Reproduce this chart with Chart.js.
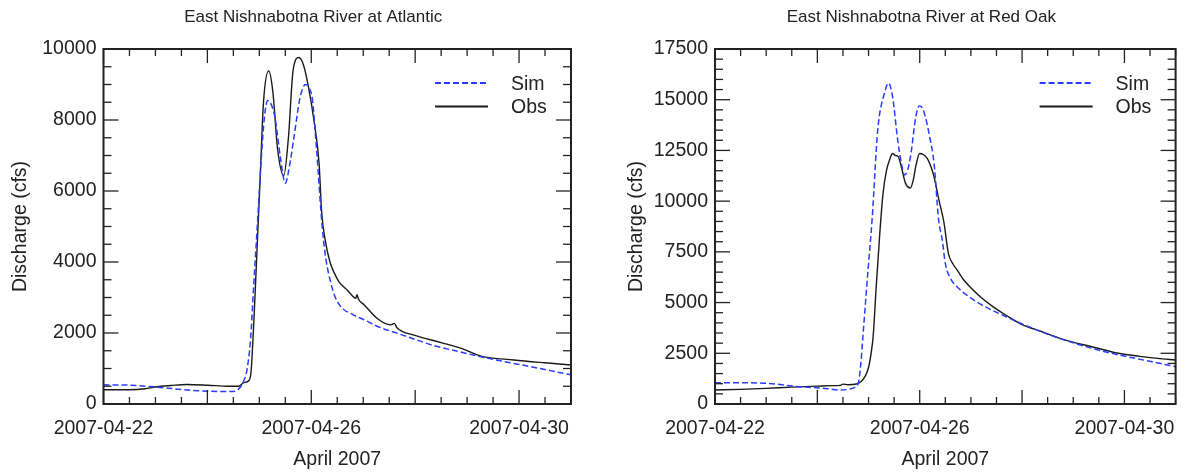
<!DOCTYPE html>
<html>
<head>
<meta charset="utf-8">
<script src="https://cdn.jsdelivr.net/npm/chart.js@4.4.1/dist/chart.umd.min.js"></script>
<style>
    html, body { margin: 0; padding: 0; background: #fff; }
    #wrap { position: relative; width: 1188px; height: 474px; }
    .panel { position: absolute; top: 0; width: 594px; height: 474px; }
</style>
</head>
<body>
<div id="wrap">
    <div class="panel" style="left:0"><canvas id="atlantic" width="594" height="474"></canvas></div>
    <div class="panel" style="left:594px"><canvas id="redoak" width="594" height="474"></canvas></div>
</div>
<script>
// --- Data (x = days since 2007-04-22 00:00, y = discharge in cfs) ---
const xLabelDays = [0, 4, 8];
const xLabels = ['2007-04-22', '2007-04-26', '2007-04-30'];
const xMajorDays = [0, 2, 4, 6, 8];

const atlanticYTicks = [0, 2000, 4000, 6000, 8000, 10000];
const redOakYTicks = [0, 2500, 5000, 7500, 10000, 12500, 15000, 17500];

const atlanticSim = [
    [0, 540], [0.5, 530], [1.0, 480], [1.5, 410], [2.0, 360], [2.45, 350], [2.6, 420], [2.7, 650],
    [2.76, 950], [2.83, 1800], [2.89, 3300], [2.96, 5000], [3.04, 6970], [3.1, 8100], [3.16, 8550],
    [3.24, 8400], [3.31, 8000], [3.4, 7000], [3.5, 6220], [3.58, 6700], [3.66, 7440], [3.78, 8600],
    [3.89, 9000], [3.96, 8900], [4.02, 8600], [4.1, 7200], [4.21, 5000], [4.28, 4100], [4.37, 3450],
    [4.45, 3050], [4.57, 2740], [4.8, 2520], [5.02, 2370], [5.3, 2170], [5.66, 1990], [6.0, 1820],
    [6.37, 1640], [6.8, 1490], [7.27, 1330], [7.8, 1170], [8.23, 1050], [8.6, 940], [9.0, 820]
];
const atlanticObs = [
    [0, 400], [0.5, 400], [0.8, 430], [1.0, 480], [1.3, 520], [1.6, 550], [2.0, 530], [2.4, 500],
    [2.6, 500], [2.7, 600], [2.8, 660], [2.84, 900], [2.9, 2500], [2.96, 4500], [3.02, 6500],
    [3.08, 8500], [3.18, 9380], [3.26, 8800], [3.35, 7200], [3.47, 6430], [3.56, 7500], [3.65, 9400],
    [3.76, 9760], [3.85, 9550], [3.95, 8900], [4.05, 8000], [4.15, 6780], [4.2, 5400], [4.27, 4600],
    [4.36, 4000], [4.44, 3700], [4.53, 3450], [4.7, 3200], [4.86, 2980], [4.88, 3080], [4.91, 2950],
    [5.02, 2790], [5.27, 2410], [5.53, 2230], [5.6, 2270], [5.65, 2150], [5.98, 1940], [6.5, 1730],
    [6.9, 1560], [7.27, 1350], [7.9, 1240], [8.5, 1160], [9.0, 1100]
];

const redOakSim = [
    [0, 1050], [0.5, 1050], [1.0, 1020], [1.64, 855], [2.15, 770], [2.44, 690], [2.6, 720], [2.73, 820],
    [2.8, 1020], [2.85, 2000], [2.89, 3320], [2.99, 6600], [3.07, 9100], [3.18, 13510], [3.31, 15320],
    [3.39, 15820], [3.47, 15150], [3.57, 13010], [3.64, 11900], [3.7, 11290], [3.76, 11500], [3.83, 12360],
    [3.92, 14100], [3.99, 14690], [4.05, 14600], [4.11, 14160], [4.2, 13100], [4.28, 11870], [4.37, 9070],
    [4.44, 8100], [4.5, 6930], [4.6, 6200], [4.73, 5780], [5.11, 5040], [5.69, 4300], [6.46, 3480],
    [7.49, 2660], [8.52, 2090], [9.0, 1840]
];
const redOakObs = [
    [0, 690], [0.5, 720], [1.0, 770], [1.5, 830], [2.0, 880], [2.28, 905], [2.45, 920], [2.5, 980],
    [2.6, 950], [2.76, 985], [2.85, 1100], [2.93, 1350], [3.0, 1800], [3.05, 2500], [3.09, 3320],
    [3.15, 5780], [3.22, 8410], [3.28, 10300], [3.35, 11500], [3.42, 12100], [3.47, 12350], [3.52, 12250],
    [3.58, 12200], [3.64, 11700], [3.72, 10900], [3.82, 10650], [3.87, 11000], [3.93, 11800], [4.0, 12350],
    [4.07, 12300], [4.15, 12100], [4.22, 11700], [4.28, 11200], [4.38, 10000], [4.47, 9000], [4.56, 7430],
    [4.65, 6900], [4.73, 6610], [4.85, 6150], [4.98, 5780], [5.2, 5250], [5.43, 4800], [5.7, 4350],
    [5.95, 3980], [6.4, 3550], [6.85, 3150], [7.4, 2800], [7.88, 2500], [8.3, 2350], [8.65, 2250], [9.0, 2170]
];

const FONT = 'Liberation Sans, Arial, Helvetica, sans-serif';
const INK = '#222';
const SIM_COLOR = '#2a3cff';
const OBS_COLOR = '#1a1a1a';

// Inward ticks on all four sides + boxed frame
const frameTicks = {
    id: 'frameTicks',
    afterDatasetsDraw(chart, args, opts) {
        const { ctx, chartArea: a, scales: { x, y } } = chart;
        const line = (x1, y1, x2, y2) => { ctx.beginPath(); ctx.moveTo(x1, y1); ctx.lineTo(x2, y2); ctx.stroke(); };
        ctx.save();
        ctx.strokeStyle = INK;
        ctx.lineWidth = 1.3;
        for (let d = x.min; d <= x.max + 1e-9; d += 0.5) {
            const p = x.getPixelForValue(d);
            const len = xMajorDays.includes(d) ? 14 : 7;
            line(p, a.bottom, p, a.bottom - len);
            line(p, a.top, p, a.top + len);
        }
        for (let v = 0; v <= y.max + 1e-9; v += opts.yMinor) {
            const p = y.getPixelForValue(v);
            const len = opts.yMajor.includes(v) ? 15 : 8;
            line(a.left, p, a.left + len, p);
            line(a.right, p, a.right - len, p);
        }
        ctx.lineWidth = 2;
        ctx.strokeRect(a.left, a.top, a.right - a.left, a.bottom - a.top);
        ctx.restore();
    }
};

// Title above the plot, legend inside the plot (top right)
const titleAndLegend = {
    id: 'titleAndLegend',
    afterDraw(chart, args, opts) {
        const { ctx, chartArea: a } = chart;
        ctx.save();
        ctx.fillStyle = INK;
        ctx.font = `17px ${FONT}`;
        ctx.textAlign = 'center';
        ctx.textBaseline = 'middle';
        ctx.fillText(opts.text, (a.left + a.right) / 2 - 24, 17);

        ctx.font = `19.5px ${FONT}`;
        ctx.textAlign = 'left';
        ctx.textBaseline = 'alphabetic';
        chart.data.datasets.forEach((ds, i) => {
            const yy = a.top + 34 + i * 23.4;
            ctx.strokeStyle = ds.borderColor;
            ctx.lineWidth = 2;
            ctx.setLineDash(ds.borderDash || []);
            ctx.beginPath();
            ctx.moveTo(a.right - 136, yy);
            ctx.lineTo(a.right - 83, yy);
            ctx.stroke();
            ctx.fillText(ds.label, a.right - 60, yy + 7);
        });
        ctx.restore();
    }
};

const makeChart = (id, cfg) => {
    const toPts = arr => arr.map(([d, v]) => ({ x: d, y: v }));
    return new Chart(document.getElementById(id), {
        type: 'line',
        data: {
            datasets: [
                {
                    label: 'Sim', data: toPts(cfg.sim), borderColor: SIM_COLOR, borderWidth: 1.5,
                    borderDash: [6, 3], pointRadius: 0, cubicInterpolationMode: 'monotone'
                },
                {
                    label: 'Obs', data: toPts(cfg.obs), borderColor: OBS_COLOR, borderWidth: 1.4,
                    pointRadius: 0, cubicInterpolationMode: 'monotone'
                }
            ]
        },
        options: {
            responsive: false,
            animation: false,
            devicePixelRatio: 1,
            layout: { padding: { left: 0, right: cfg.padRight, top: 49, bottom: 0 } },
            plugins: {
                legend: { display: false },
                tooltip: { enabled: false },
                title: { display: false },
                titleAndLegend: { text: cfg.title },
                frameTicks: { yMajor: cfg.yTicks, yMinor: 500 }
            },
            scales: {
                x: {
                    type: 'linear', min: 0, max: 9,
                    afterBuildTicks: s => { s.ticks = xLabelDays.map(v => ({ value: v })); },
                    afterFit: s => { s.height = 70; },
                    grid: { display: false, drawTicks: false },
                    border: { display: false },
                    ticks: {
                        color: INK, padding: 13, maxRotation: 0, autoSkip: false,
                        font: { family: FONT, size: 19.5 },
                        callback: v => xLabels[xLabelDays.indexOf(v)]
                    },
                    title: {
                        display: true, text: 'April 2007', color: INK,
                        font: { family: FONT, size: 19.5 }, padding: { top: 0, bottom: 3 }
                    }
                },
                y: {
                    type: 'linear', min: 0, max: cfg.yMax,
                    afterBuildTicks: s => { s.ticks = cfg.yTicks.map(v => ({ value: v })); },
                    afterFit: s => { s.width = cfg.yWidth; },
                    grid: { display: false, drawTicks: false },
                    border: { display: false },
                    ticks: {
                        color: INK, padding: 7,
                        font: { family: FONT, size: 19.5 },
                        callback: v => String(v)
                    },
                    title: {
                        display: true, text: 'Discharge (cfs)', color: INK,
                        font: { family: FONT, size: 19.5 }, padding: { top: cfg.yTitlePad, bottom: 0 }
                    }
                }
            }
        },
        plugins: [frameTicks, titleAndLegend]
    });
};

makeChart('atlantic', {
    title: 'East Nishnabotna River at Atlantic',
    sim: atlanticSim, obs: atlanticObs,
    yMax: 10000, yTicks: atlanticYTicks,
    yWidth: 103.5, padRight: 23, yTitlePad: 8.8
});

makeChart('redoak', {
    title: 'East Nishnabotna River at Red Oak',
    sim: redOakSim, obs: redOakObs,
    yMax: 17500, yTicks: redOakYTicks,
    yWidth: 121, padRight: 6.3, yTitlePad: 30.6
});
</script>
</body>
</html>
